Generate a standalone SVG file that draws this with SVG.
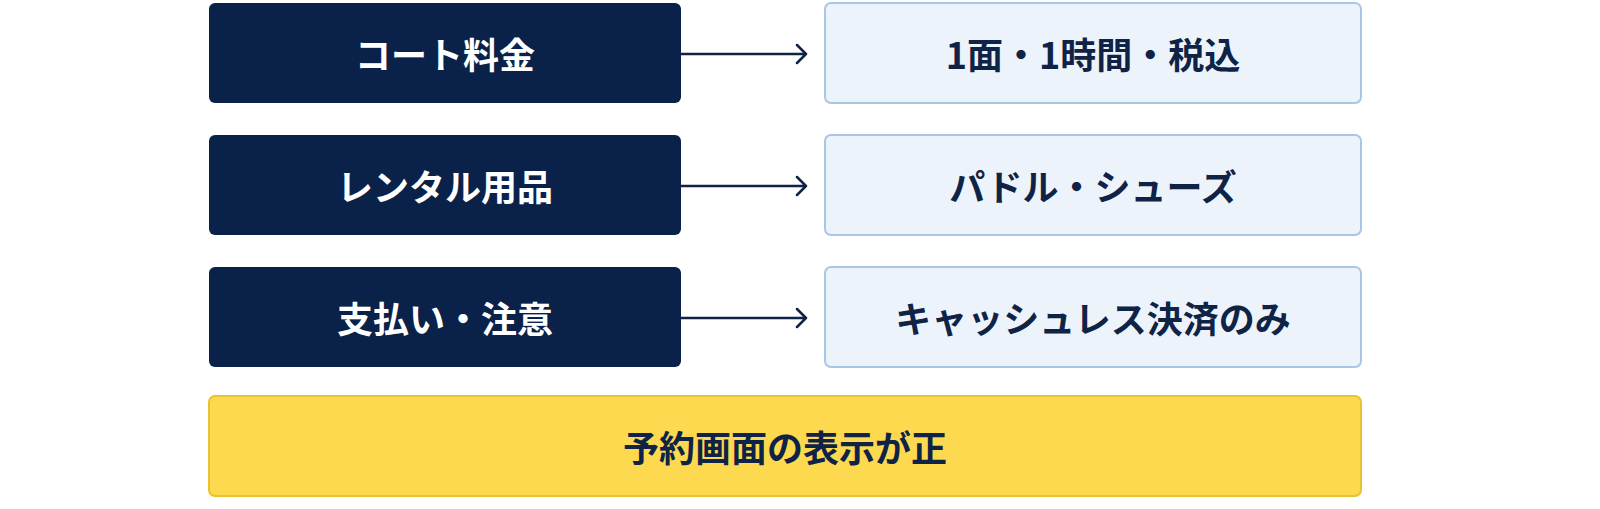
<svg xmlns="http://www.w3.org/2000/svg" width="1600" height="509" viewBox="0 0 1600 509">
<style>
.l{fill:#0a2249}
.r{fill:#edf3fa;stroke:#a9c6e6;stroke-width:2}
.y{fill:#fdd94f;stroke:#e9c232;stroke-width:2}
.t{font-family:"Noto Sans CJK JP","Noto Sans",sans-serif;font-weight:700;font-size:36px;text-anchor:middle;dominant-baseline:central}
.w{fill:#ffffff}.d{fill:#0f2347}
.c{stroke:#0f2347;stroke-width:2.5;fill:none;stroke-linecap:round;stroke-linejoin:round}
</style>
<rect width="1600" height="509" fill="#ffffff"/>
<g id="n1"><rect class="l" x="209" y="3" width="472" height="100" rx="6"/><text class="t w" x="445" y="53">コート料金</text></g>
<g id="n2"><rect class="l" x="209" y="135" width="472" height="100" rx="6"/><text class="t w" x="445" y="185">レンタル用品</text></g>
<g id="n3"><rect class="l" x="209" y="267" width="472" height="100" rx="6"/><text class="t w" x="445" y="317">支払い・注意</text></g>
<g id="m1"><rect class="r" x="825" y="3" width="536" height="100" rx="6"/><text class="t d" x="1093" y="53">1面・1時間・税込</text></g>
<g id="m2"><rect class="r" x="825" y="135" width="536" height="100" rx="6"/><text class="t d" x="1093" y="185">パドル・シューズ</text></g>
<g id="m3"><rect class="r" x="825" y="267" width="536" height="100" rx="6"/><text class="t d" x="1093" y="317">キャッシュレス決済のみ</text></g>
<g id="b"><rect class="y" x="209" y="396" width="1152" height="100" rx="6"/><text class="t d" x="785" y="446">予約画面の表示が正</text></g>
<g id="connectors">
<path class="c" d="M681 54H806M797 45L806 54L797 63"/>
<path class="c" d="M681 186H806M797 177L806 186L797 195"/>
<path class="c" d="M681 318H806M797 309L806 318L797 327"/>
</g>
</svg>
